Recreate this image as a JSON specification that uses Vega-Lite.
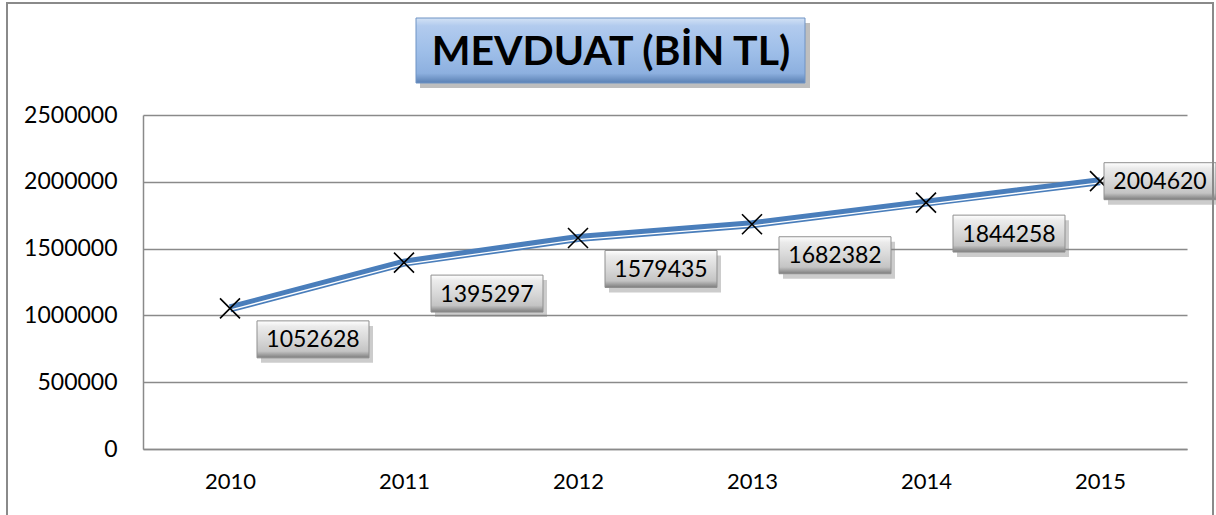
{
  "$schema": "https://vega.github.io/schema/vega-lite/v6.json",
  "width": 1044,
  "height": 334,
  "autosize": {"type": "none"},
  "padding": {"left": 143, "top": 115, "right": 29, "bottom": 66},
  "background": "#ffffff",
  "config": {"view": {"stroke": null}, "font": "Lato"},
  "data": {"values": [
    {"year": "2010", "value": 1052628},
    {"year": "2011", "value": 1395297},
    {"year": "2012", "value": 1579435},
    {"year": "2013", "value": 1682382},
    {"year": "2014", "value": 1844258},
    {"year": "2015", "value": 2004620}
  ]},
  "encoding": {
    "x": {"field": "year", "type": "ordinal", "scale": {"type": "point", "padding": 0.5},
      "axis": {"title": null, "labelAngle": 0, "labelFont": "Lato", "labelFontSize": 22, "labelColor": "#000000", "ticks": false, "domain": true, "domainColor": "#8a8a8a", "domainWidth": 1.5, "labelPadding": 22, "grid": false}},
    "y": {"field": "value", "type": "quantitative", "scale": {"domain": [0, 2500000], "nice": false},
      "axis": {"title": null, "values": [0, 500000, 1000000, 1500000, 2000000, 2500000], "format": "d", "labelFont": "Lato", "labelFontSize": 23, "labelColor": "#000000", "ticks": false, "labelPadding": 26, "domain": true, "domainColor": "#8a8a8a", "domainWidth": 1.5, "grid": true, "gridColor": "#8a8a8a", "gridWidth": 1.5}}
  },
  "layer": [
    {"mark": {"type": "line", "color": "#4a7ebb", "strokeWidth": 8}},
    {"mark": {"type": "line", "color": "#ffffff", "strokeWidth": 1.3, "yOffset": 1.7}},
    {"mark": {"type": "point", "shape": "M-1,-1L1,1M-1,1L1,-1", "size": 400, "filled": false, "stroke": "#000000", "strokeWidth": 1.6, "opacity": 1}},
    {"transform": [{"filter": "datum.year != '2015'"}],
     "mark": {"type": "point", "shape": "M-1,-0.33L1,-0.33L1,0.33L-1,0.33Z", "size": 12544, "filled": true, "fill": "#7f7f7f", "opacity": 0.4, "strokeWidth": 0, "xOffset": 87, "yOffset": 36}},
    {"transform": [{"filter": "datum.year != '2015'"}],
     "mark": {"type": "point", "shape": "M-1,-0.33L1,-0.33L1,0.33L-1,0.33Z", "size": 12544, "filled": true, "opacity": 1, "stroke": "#8f8f8f", "strokeWidth": 1, "xOffset": 83, "yOffset": 31,
       "fill": {"gradient": "linear", "x1": 0, "y1": 0, "x2": 0, "y2": 1, "stops": [
         {"offset": 0, "color": "#ffffff"}, {"offset": 0.15, "color": "#ebebeb"}, {"offset": 0.5, "color": "#d8d8d8"}, {"offset": 0.82, "color": "#c4c4c4"}, {"offset": 1, "color": "#7d7d7d"}]}}},
    {"transform": [{"filter": "datum.year != '2015'"}],
     "mark": {"type": "text", "font": "Lato", "fontSize": 23, "color": "#000000", "align": "center", "baseline": "middle", "dx": 83, "dy": 32},
     "encoding": {"text": {"field": "value", "type": "quantitative", "format": "d"}}},
    {"transform": [{"filter": "datum.year == '2015'"}],
     "mark": {"type": "point", "shape": "M-1,-0.33L1,-0.33L1,0.33L-1,0.33Z", "size": 12544, "filled": true, "fill": "#7f7f7f", "opacity": 0.4, "strokeWidth": 0, "xOffset": 64, "yOffset": 5}},
    {"transform": [{"filter": "datum.year == '2015'"}],
     "mark": {"type": "point", "shape": "M-1,-0.33L1,-0.33L1,0.33L-1,0.33Z", "size": 12544, "filled": true, "opacity": 1, "stroke": "#8f8f8f", "strokeWidth": 1, "xOffset": 60, "yOffset": 0,
       "fill": {"gradient": "linear", "x1": 0, "y1": 0, "x2": 0, "y2": 1, "stops": [
         {"offset": 0, "color": "#ffffff"}, {"offset": 0.15, "color": "#ebebeb"}, {"offset": 0.5, "color": "#d8d8d8"}, {"offset": 0.82, "color": "#c4c4c4"}, {"offset": 1, "color": "#7d7d7d"}]}}},
    {"transform": [{"filter": "datum.year == '2015'"}],
     "mark": {"type": "text", "font": "Lato", "fontSize": 23, "color": "#000000", "align": "center", "baseline": "middle", "dx": 60, "dy": 1},
     "encoding": {"text": {"field": "value", "type": "quantitative", "format": "d"}}},
    {"data": {"values": [{"t": "MEVDUAT (BİN TL)"}]},
     "mark": {"type": "rect", "fill": "#6f6f6f", "opacity": 0.45, "clip": false},
     "encoding": {"x": {"value": 277}, "x2": {"value": 667}, "y": {"value": -92}, "y2": {"value": -27}}},
    {"data": {"values": [{"t": "MEVDUAT (BİN TL)"}]},
     "mark": {"type": "rect", "stroke": "#6f93c4", "strokeWidth": 1, "clip": false,
       "fill": {"gradient": "linear", "x1": 0, "y1": 0, "x2": 0, "y2": 1, "stops": [
         {"offset": 0, "color": "#d3e2f5"}, {"offset": 0.12, "color": "#b2cbee"}, {"offset": 0.5, "color": "#9fbfe9"}, {"offset": 0.85, "color": "#8db0df"}, {"offset": 1, "color": "#5a80b3"}]}},
     "encoding": {"x": {"value": 273}, "x2": {"value": 662}, "y": {"value": -97}, "y2": {"value": -32}}},
    {"data": {"values": [{"t": "MEVDUAT (BİN TL)"}]},
     "mark": {"type": "text", "font": "Lato", "fontSize": 41, "fontWeight": "bold", "color": "#000000", "align": "center", "baseline": "middle"},
     "encoding": {"x": {"value": 468}, "y": {"value": -62}, "text": {"field": "t"}}},
    {"data": {"values": [{"t": "frame"}]},
     "mark": {"type": "rect", "fill": null, "stroke": "#8a8a8a", "strokeWidth": 2, "clip": false},
     "encoding": {"x": {"value": -136}, "x2": {"value": 1070}, "y": {"value": -112}, "y2": {"value": 404}}}
  ]
}
